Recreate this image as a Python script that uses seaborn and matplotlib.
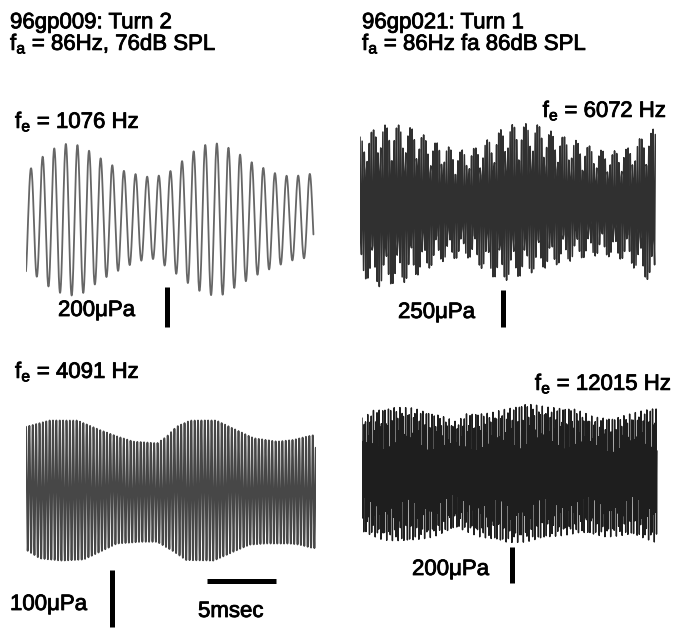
import numpy as np
import matplotlib
matplotlib.use("Agg")
import matplotlib.pyplot as plt
import matplotlib.patheffects as pe
import seaborn as sns

# panel 1: 96gp009, fe = 1076 Hz (peak / trough amplitudes per cycle, uPa)
f1 = 1076
dur1 = 23.0
t1_up = [0.40, 1.33, 2.27, 3.20, 4.13, 5.04, 5.97, 6.88, 7.79, 8.69, 9.63, 10.56, 11.49,
         12.43, 13.36, 14.29, 15.23, 16.13, 17.04, 17.97, 18.88, 19.79, 20.69, 21.63, 22.56]
a1_up = [256, 314, 356, 378, 372, 344, 306, 272, 244, 228, 214, 218, 239,
         289, 339, 372, 381, 361, 328, 289, 261, 234, 219, 218, 228]
t1_dn = [0.93, 1.87, 2.80, 3.73, 4.64, 5.57, 6.48, 7.39, 8.29, 9.20, 10.11, 11.04,
         11.97, 12.91, 13.84, 14.77, 15.68, 16.61, 17.52, 18.45, 19.36, 20.27, 21.20, 22.13]
a1_dn = [286, 339, 369, 381, 366, 322, 286, 256, 228, 206, 196, 228,
         269, 316, 356, 378, 378, 344, 311, 278, 252, 228, 206, 194]

# panel 2: 96gp021, fe = 6072 Hz (envelope, uPa)
f2 = 6072
dur2 = 21.4
t2_up = [0.14, 1.45, 2.9, 3.99, 5.07, 6.16, 6.88, 7.97, 8.91, 9.93, 10.5, 12.7, 14.1,
         15.6, 17.0, 18.1, 19.6, 20.7, 21.4]
a2_up = [459, 541, 541, 520, 439, 405, 372, 372, 419, 486, 541, 554, 486,
         439, 385, 358, 392, 486, 520]
t2_dn = [0.12, 1.45, 3.38, 5.8, 7.73, 8.93, 10.1, 11.6, 13.0, 15.5, 17.4, 19.1, 20.3, 21.3]
a2_dn = [486, 554, 520, 385, 351, 439, 520, 486, 439, 372, 338, 372, 459, 554]

# panel 3: 96gp009, fe = 4091 Hz (envelope, uPa)
f3 = 4091
dur3 = 21.0
t3_up = [0.0, 1.7, 3.7, 5.4, 6.6, 7.8, 9.5, 10.2, 10.9, 11.9, 13.8, 15.0, 16.5, 18.2, 19.4, 20.7]
a3_up = [111, 122, 122, 105, 94, 85, 82, 94, 111, 122, 122, 108, 91, 85, 88, 96]
t3_dn = [0.0, 1.0, 2.5, 4.2, 5.4, 6.6, 8.3, 9.5, 10.7, 11.6, 13.6, 14.8, 16.2, 17.4, 19.1, 19.8, 20.8]
a3_dn = [105, 120, 124, 122, 108, 94, 91, 91, 108, 123, 124, 111, 96, 94, 94, 96, 102]

# panel 4: 96gp021, fe = 12015 Hz (envelope, uPa)
f4 = 12015
dur4 = 21.4
t4_up = [0.09, 0.82, 2.27, 3.72, 5.65, 6.86, 7.59, 9.28, 10.7, 11.9, 13.4, 15.3, 16.8, 18.2, 19.7, 21.2]
a4_up = [311, 356, 372, 367, 328, 289, 339, 339, 367, 394, 372, 367, 317, 311, 339, 372]
t4_dn = [0.09, 1.54, 3.23, 5.17, 6.86, 8.55, 10.5, 11.9, 13.8, 15.8, 17.7, 19.6, 21.2]
a4_dn = [328, 367, 378, 350, 300, 350, 383, 378, 350, 328, 350, 339, 378]

W, H = 675, 629
sns.set_style("white")
plt.rcParams['font.family'] = ['Liberation Sans', 'DejaVu Sans']
plt.rcParams['mathtext.fontset'] = 'custom'
plt.rcParams['mathtext.rm'] = 'Liberation Sans'
plt.rcParams['mathtext.it'] = 'Liberation Sans'

fig = plt.figure(figsize=(W / 100, H / 100), dpi=100)


def wave(f, dur, fs, phase, t_up, a_up, t_dn, a_dn):
    t = np.arange(0, dur, 1000.0 / fs)
    c = np.cos(2 * np.pi * f * t / 1000.0 + phase)
    up = np.interp(t, t_up, a_up)
    dn = np.interp(t, t_dn, a_dn)
    return t, np.where(c >= 0, up * c, dn * c)


def panel(x0, yc, width, px_ms, px_u):
    h = 200
    ax = fig.add_axes([x0 / W, 1 - (yc + h / 2) / H, width / W, h / H])
    ax.set_xlim(0, width / px_ms)
    ax.set_ylim(-h / 2 / px_u, h / 2 / px_u)
    ax.axis('off')
    return ax


def vbar(ax, xpx, ytop, ybot):
    inv = ax.transData.inverted()
    p0 = inv.transform((xpx, H - ybot))
    p1 = inv.transform((xpx, H - ytop))
    ax.plot([p0[0], p1[0]], [p0[1], p1[1]], color='black', lw=3.6,
            solid_capstyle='butt', clip_on=False)


panels = [
    (26, 219.5, 289, 12.5, 0.2, f1, dur1, 200000, -2.70, t1_up, a1_up, t1_dn, a1_dn, '#666666', 1.3),
    (360, 205, 296, 13.8, 0.148, f2, dur2, 19300, 0.0, t2_up, a2_up, t2_dn, a2_dn, '#303030', 1.1),
    (26, 490, 290, 13.8, 0.57, f3, dur3, 200000, 0.0, t3_up, a3_up, t3_dn, a3_dn, '#474747', 1.3),
    (362, 474, 296, 13.8, 0.18, f4, dur4, 31300, 0.0, t4_up, a4_up, t4_dn, a4_dn, '#1e1e1e', 1.0),
]
axes = []
for x0, yc, wd, pms, pu, f, dur, fs, ph, tu, au, td, ad, col, lw in panels:
    ax = panel(x0, yc, wd, pms, pu)
    t, y = wave(f, dur, fs, ph, tu, au, td, ad)
    sns.lineplot(x=t, y=y, ax=ax, estimator=None, sort=False, color=col, linewidth=lw)
    axes.append(ax)

fig.canvas.draw()
vbar(axes[0], 167, 287, 327)
vbar(axes[1], 503, 290, 327)
vbar(axes[2], 112, 570, 627)
vbar(axes[3], 512, 547, 583)
# 5 msec time bar
inv = axes[2].transData.inverted()
q0 = inv.transform((207, H - 581))
axes[2].plot([q0[0], q0[0] + 5.0], [q0[1], q0[1]], color='black', lw=3.6,
             solid_capstyle='butt', clip_on=False)

stroke = [pe.withStroke(linewidth=0.6, foreground='black')]


def label(x, y, s, ha='left', size=16, **kw):
    fig.text(x / W, 1 - y / H, s, ha=ha, va='baseline', fontsize=size, color='black',
             path_effects=stroke, **kw)


label(10, 50, '96gp009: Turn 2\n' + r'$\mathregular{f_a}$ = 86Hz, 76dB SPL',
      size=16, linespacing=0.93)
label(362, 50, '96gp021: Turn 1\n' + r'$\mathregular{f_a}$ = 86Hz fa 86dB SPL',
      size=16, linespacing=0.93)
label(15, 128, r'$\mathregular{f_e}$ = 1076 Hz')
label(667, 117, r'$\mathregular{f_e}$ = 6072 Hz', ha='right')
label(15, 378, r'$\mathregular{f_e}$ = 4091 Hz')
label(672, 390, r'$\mathregular{f_e}$ = 12015 Hz', ha='right')
label(58, 316, '200\u03bcPa')
label(398, 318, '250\u03bcPa')
label(10, 610, '100\u03bcPa')
label(198, 617, '5msec')
label(412, 575, '200\u03bcPa')

fig.savefig('out.png', dpi=100)
